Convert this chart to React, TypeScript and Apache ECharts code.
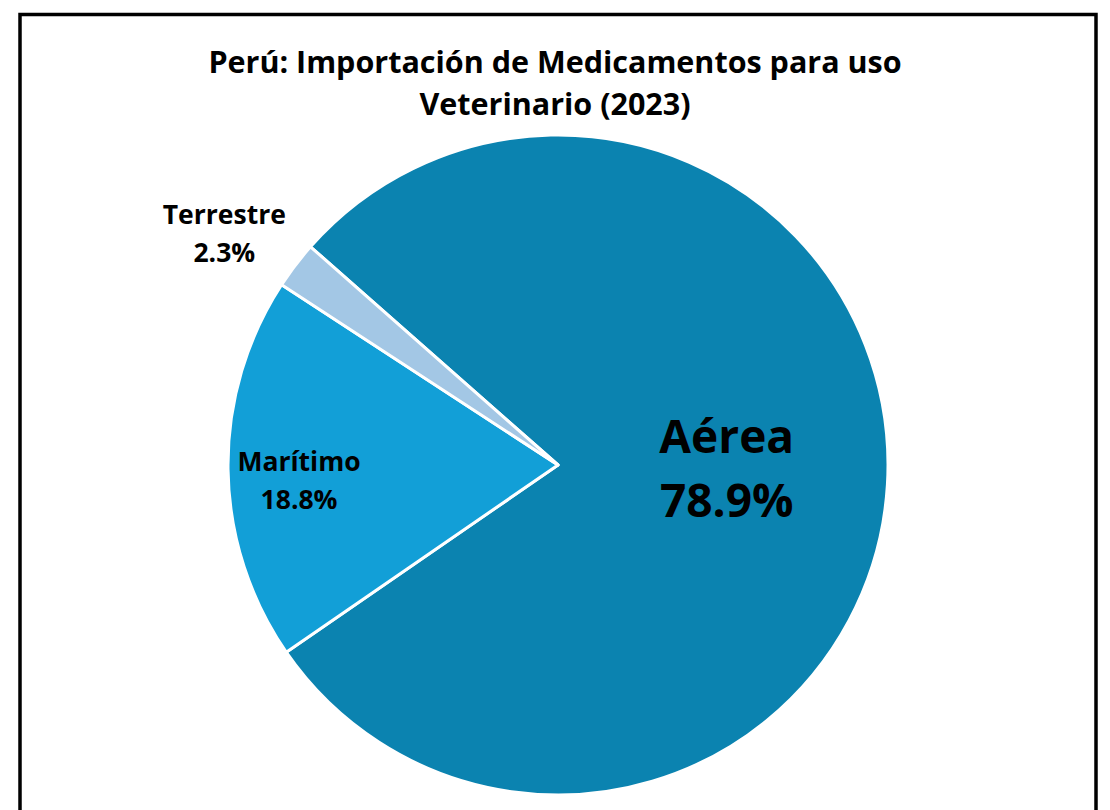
import React, { useEffect, useRef } from 'react';
import * as echarts from 'echarts';

const categories = ['Aérea', 'Marítimo', 'Terrestre'];
const shares = [78.9, 18.8, 2.3];
const sliceColors = ['#0b83b0', '#129fd7', '#a3c7e5'];
const titleLines = ['Perú: Importación de Medicamentos para uso', 'Veterinario (2023)'];

const FONT = '"Open Sans", Lato, sans-serif';

export default function App() {
  const ref = useRef<HTMLDivElement>(null);

  useEffect(() => {
    if (!ref.current) return;
    const chart = echarts.init(ref.current, null, { renderer: 'svg' });

    const labelSizes = [
      { fontSize: 46, lineHeight: 64 },
      { fontSize: 26.5, lineHeight: 38 },
      { fontSize: 26.5, lineHeight: 38 },
    ];
    const labelShift = [
      { dx: 1, dy: -8 },
      { dx: -91, dy: 13 },
      { dx: -200, dy: -130 },
    ];

    chart.setOption({
      animation: false,
      backgroundColor: '#ffffff',
      title: {
        text: titleLines.join('\n'),
        left: 'center',
        top: 35,
        textStyle: {
          fontFamily: FONT,
          fontWeight: 'bold',
          fontSize: 30.5,
          lineHeight: 42,
          color: '#000000',
        },
      },
      graphic: [
        {
          type: 'rect',
          silent: true,
          shape: { x: 20, y: 14.5, width: 1076, height: 830 },
          style: { fill: 'none', stroke: '#000000', lineWidth: 3.5 },
        },
      ],
      series: [
        {
          type: 'pie',
          center: [558, 465],
          radius: 330,
          startAngle: 138.6,
          clockwise: true,
          emphasis: { disabled: true },
          itemStyle: { borderColor: '#ffffff', borderWidth: 3 },
          labelLine: { show: false },
          label: {
            show: true,
            position: 'inside',
            color: '#000000',
            fontFamily: FONT,
            fontWeight: 'bold',
            align: 'center',
            formatter: (p: any) => `${p.name}\n${Number(p.value).toFixed(1)}%`,
          },
          labelLayout: (p: any) => labelShift[p.dataIndex] || {},
          data: categories.map((name, i) => ({
            name,
            value: shares[i],
            itemStyle: { color: sliceColors[i] },
            label: { ...labelSizes[i] },
          })),
        },
      ],
    });

    return () => {
      chart.dispose();
    };
  }, []);

  return (
    <div
      ref={ref}
      style={{ position: 'fixed', left: 0, top: 0, width: 1110, height: 810 }}
    />
  );
}
